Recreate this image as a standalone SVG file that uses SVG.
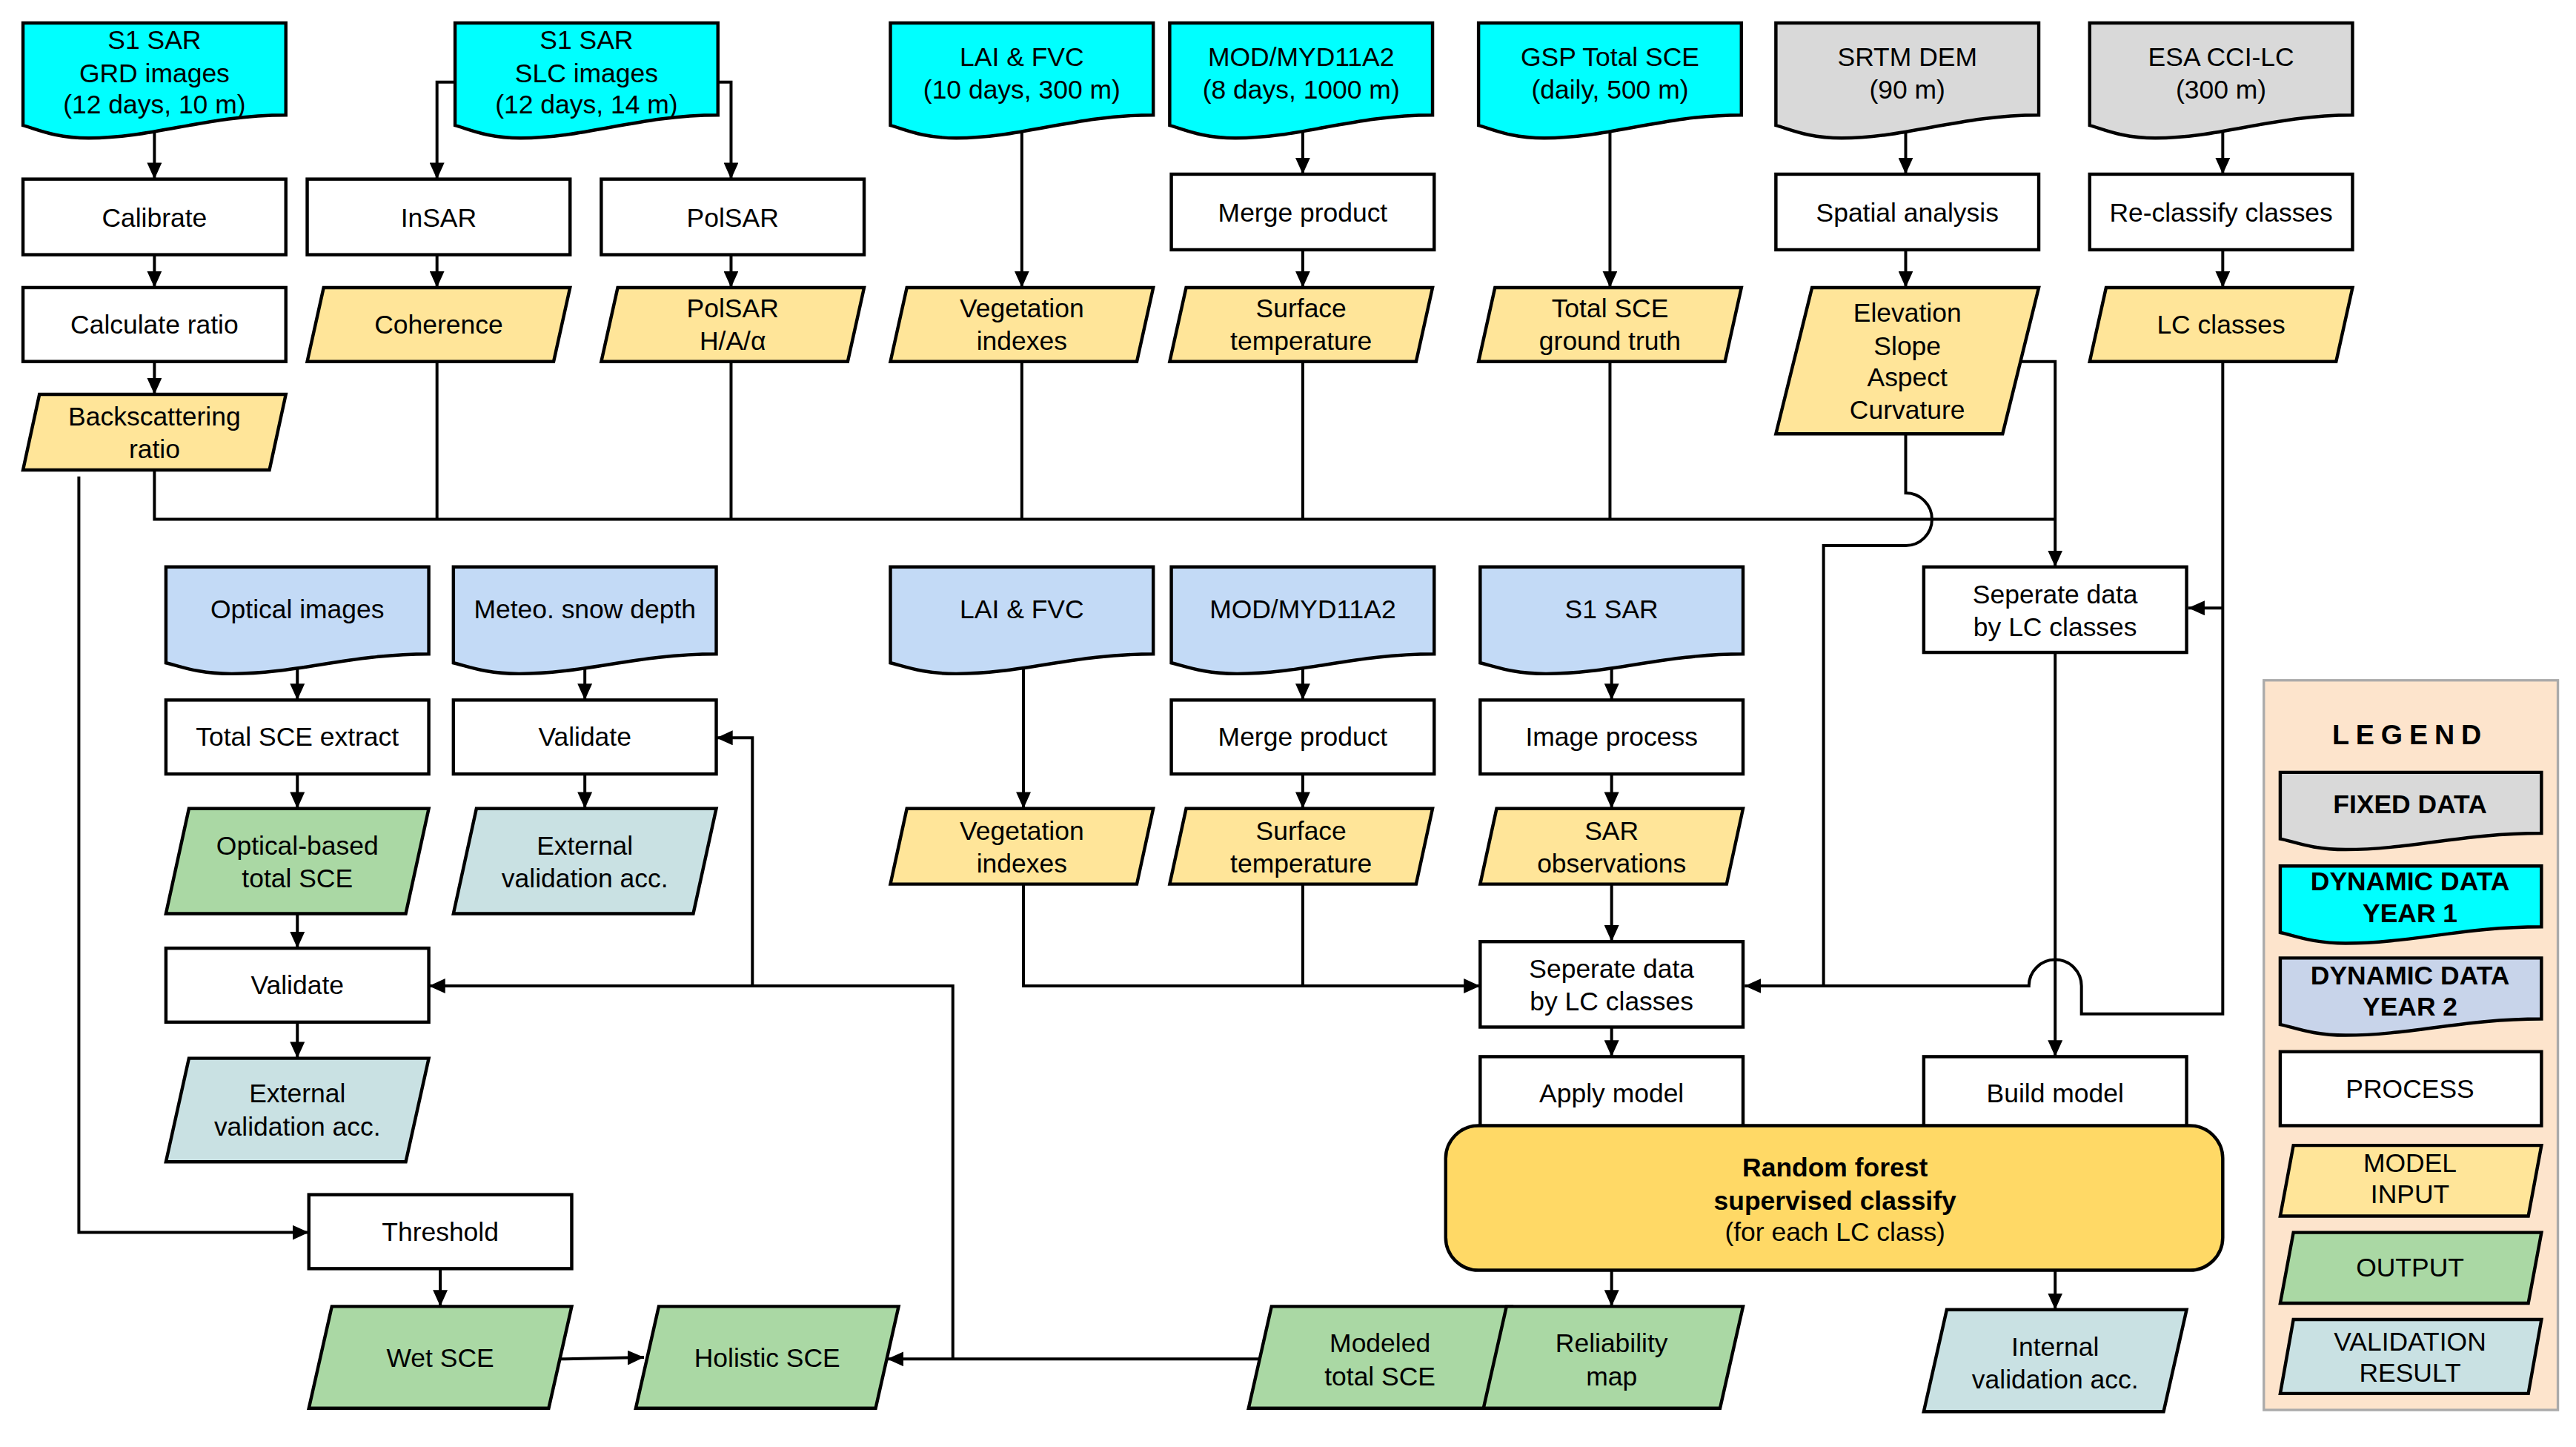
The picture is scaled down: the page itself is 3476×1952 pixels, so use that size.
<svg xmlns="http://www.w3.org/2000/svg" width="3476" height="1952" viewBox="0 0 3476 1952">
<defs>
<marker id="ar" markerWidth="10" markerHeight="9" refX="10" refY="4.5" orient="auto" markerUnits="userSpaceOnUse"><path d="M0,0 L10,4.5 L0,9 Z" fill="#000"/></marker>
<style>
.s{stroke:#000;stroke-width:2}
.p{fill:#fff}.cy{fill:#00ffff}.gr{fill:#d9d9d9}.bl{fill:#c3daf6}.b2{fill:#c8d4ea}.ye{fill:#ffe599}.gn{fill:#aad8a4}.va{fill:#c9e1e3}.rf{fill:#ffd966}
text{font-family:"Liberation Sans",Arial,sans-serif;font-size:16px;text-anchor:middle;fill:#000}
.bd{font-weight:bold}
#conn path{fill:none;stroke:#000;stroke-width:1.8}
.a{marker-end:url(#ar)}
</style>
</defs>
<rect width="3476" height="1952" fill="#fff"/>
<g transform="scale(2.2168)">
<g id="legend">
<rect x="1378" y="414" width="179" height="444" fill="#fde4cc" stroke="#aaa" stroke-width="1.5"/>
<text x="1467" y="453" class="bd" style="font-size:17px;letter-spacing:4px">LEGEND</text>
<path class="s gr" d="M1388 470 H1547 V507 C1499.3 507 1467.5 517 1427.8 517 C1407.1 517 1396 512 1388 510.5 Z"/>
<text x="1467" y="495" class="bd">FIXED DATA</text>
<path class="s cy" d="M1388 527 H1547 V564 C1499.3 564 1467.5 574 1427.8 574 C1407.1 574 1396 569 1388 567.5 Z"/>
<text x="1467" y="542" class="bd">DYNAMIC DATA</text><text x="1467" y="561" class="bd">YEAR 1</text>
<path class="s b2" d="M1388 583 H1547 V620 C1499.3 620 1467.5 630 1427.8 630 C1407.1 630 1396 625 1388 623.5 Z"/>
<text x="1467" y="599" class="bd">DYNAMIC DATA</text><text x="1467" y="618" class="bd">YEAR 2</text>
<rect class="s p" x="1388" y="640" width="159" height="45"/>
<text x="1467" y="668">PROCESS</text>
<path class="s ye" d="M1396 697 H1547 L1539 740 H1388 Z"/>
<text x="1467" y="713">MODEL</text><text x="1467" y="732">INPUT</text>
<path class="s gn" d="M1396 750 H1547 L1539 793 H1388 Z"/>
<text x="1467" y="777">OUTPUT</text>
<path class="s va" d="M1396 803 H1547 L1539 848 H1388 Z"/>
<text x="1467" y="822">VALIDATION</text><text x="1467" y="841">RESULT</text>
</g>
<g id="conn">
<path class="a" d="M94 80 V109"/><path class="a" d="M94 155 V175"/><path class="a" d="M94 220 V240"/>
<path class="a" d="M277 50 H266 V109"/><path class="a" d="M437 50 H445 V109"/>
<path class="a" d="M266 155 V175"/><path class="a" d="M445 155 V175"/>
<path class="a" d="M622 80 V175"/>
<path class="a" d="M793 80 V106"/><path class="a" d="M793 152 V175"/>
<path class="a" d="M980 80 V175"/>
<path class="a" d="M1160 80 V106"/><path class="a" d="M1160 152 V175"/>
<path class="a" d="M1353 80 V106"/><path class="a" d="M1353 152 V175"/>
<path d="M94 286 V316 H1251"/>
<path d="M266 220 V316 M445 220 V316 M622 220 V316 M793 220 V316 M980 220 V316"/>
<path class="a" d="M1230 220 H1251 V345"/>
<path class="a" d="M1160 264 V300 A16 16 0 0 1 1160 332 H1110 V600 H1062"/>
<path d="M1353 220 V617 H1267 V600 A16 16 0 0 0 1235 600 H1110"/>
<path class="a" d="M1353 370 H1332"/>
<path class="a" d="M48 290 V750 H188"/>
<path class="a" d="M1251 397 V643"/>
<path class="a" d="M181 405 V426"/><path class="a" d="M181 471 V492"/><path class="a" d="M181 556 V577"/><path class="a" d="M181 622 V644"/>
<path class="a" d="M356 405 V426"/><path class="a" d="M356 471 V492"/>
<path class="a" d="M623 405 V492"/>
<path class="a" d="M793 405 V426"/><path class="a" d="M793 471 V492"/>
<path class="a" d="M981 405 V426"/><path class="a" d="M981 471 V492"/><path class="a" d="M981 538 V573"/>
<path class="a" d="M623 538 V600 H901"/><path d="M793 538 V600"/>
<path class="a" d="M981 625 V643"/>
<path class="a" d="M981 773 V795"/><path class="a" d="M1251 773 V797"/>
<path class="a" d="M268 772 V795"/>
<path class="a" d="M341 827 L392 826"/>
<path class="a" d="M766 827 H540"/>
<path class="a" d="M580 827 V600 H261"/>
<path class="a" d="M458 600 V449 H436"/>
</g>
<g id="n_grd"><path class="s cy" d="M14 14 H174 V70 C126 70 94 84 54 84 C33.2 84 22 78.4 14 76.3 Z"/><text x="94" y="30">S1 SAR</text><text x="94" y="50">GRD images</text><text x="94" y="69">(12 days, 10 m)</text></g>
<g id="n_slc"><path class="s cy" d="M277 14 H437 V70 C389 70 357 84 317 84 C296.2 84 285 78.4 277 76.3 Z"/><text x="357" y="30">S1 SAR</text><text x="357" y="50">SLC images</text><text x="357" y="69">(12 days, 14 m)</text></g>
<g id="n_lai1"><path class="s cy" d="M542 14 H702 V70 C654 70 622 84 582 84 C561.2 84 550 78.4 542 76.3 Z"/><text x="622" y="40">LAI &amp; FVC</text><text x="622" y="60">(10 days, 300 m)</text></g>
<g id="n_mod1"><path class="s cy" d="M712 14 H872 V70 C824 70 792 84 752 84 C731.2 84 720 78.4 712 76.3 Z"/><text x="792" y="40">MOD/MYD11A2</text><text x="792" y="60">(8 days, 1000 m)</text></g>
<g id="n_gsp"><path class="s cy" d="M900 14 H1060 V70 C1012 70 980 84 940 84 C919.2 84 908 78.4 900 76.3 Z"/><text x="980" y="40">GSP Total SCE</text><text x="980" y="60">(daily, 500 m)</text></g>
<g id="n_srtm"><path class="s gr" d="M1081 14 H1241 V70 C1193 70 1161 84 1121 84 C1100.2 84 1089 78.4 1081 76.3 Z"/><text x="1161" y="40">SRTM DEM</text><text x="1161" y="60">(90 m)</text></g>
<g id="n_esa"><path class="s gr" d="M1272 14 H1432 V70 C1384 70 1352 84 1312 84 C1291.2 84 1280 78.4 1272 76.3 Z"/><text x="1352" y="40">ESA CCI-LC</text><text x="1352" y="60">(300 m)</text></g>
<g id="n_cal"><rect class="s p" x="14" y="109" width="160" height="46"/><text x="94" y="138">Calibrate</text></g>
<g id="n_insar"><rect class="s p" x="187" y="109" width="160" height="46"/><text x="267" y="138">InSAR</text></g>
<g id="n_polsar"><rect class="s p" x="366" y="109" width="160" height="46"/><text x="446" y="138">PolSAR</text></g>
<g id="n_merge1"><rect class="s p" x="713" y="106" width="160" height="46"/><text x="793" y="135">Merge product</text></g>
<g id="n_spat"><rect class="s p" x="1081" y="106" width="160" height="46"/><text x="1161" y="135">Spatial analysis</text></g>
<g id="n_recl"><rect class="s p" x="1272" y="106" width="160" height="46"/><text x="1352" y="135">Re-classify classes</text></g>
<g id="n_calc"><rect class="s p" x="14" y="175" width="160" height="45"/><text x="94" y="203">Calculate ratio</text></g>
<g id="n_coh"><path class="s ye" d="M197 175 H347 L337 220 H187 Z"/><text x="267" y="203">Coherence</text></g>
<g id="n_haa"><path class="s ye" d="M376 175 H526 L516 220 H366 Z"/><text x="446" y="193">PolSAR</text><text x="446" y="213">H/A/α</text></g>
<g id="n_veg1"><path class="s ye" d="M552 175 H702 L692 220 H542 Z"/><text x="622" y="193">Vegetation</text><text x="622" y="213">indexes</text></g>
<g id="n_st1"><path class="s ye" d="M722 175 H872 L862 220 H712 Z"/><text x="792" y="193">Surface</text><text x="792" y="213">temperature</text></g>
<g id="n_tsce"><path class="s ye" d="M910 175 H1060 L1050 220 H900 Z"/><text x="980" y="193">Total SCE</text><text x="980" y="213">ground truth</text></g>
<g id="n_elev"><path class="s ye" d="M1103 175 H1241 L1219 264 H1081 Z"/><text x="1161" y="196">Elevation</text><text x="1161" y="216">Slope</text><text x="1161" y="235">Aspect</text><text x="1161" y="255">Curvature</text></g>
<g id="n_lc"><path class="s ye" d="M1282 175 H1432 L1422 220 H1272 Z"/><text x="1352" y="203">LC classes</text></g>
<g id="n_back"><path class="s ye" d="M24 240 H174 L164 286 H14 Z"/><text x="94" y="259">Backscattering</text><text x="94" y="279">ratio</text></g>
<g id="n_sep1"><rect class="s p" x="1171" y="345" width="160" height="52"/><text x="1251" y="367">Seperate data</text><text x="1251" y="387">by LC classes</text></g>
<g id="n_opt"><path class="s bl" d="M101 345 H261 V398 C213 398 181 410 141 410 C120.2 410 109 405.2 101 403.4 Z"/><text x="181" y="376">Optical images</text></g>
<g id="n_met"><path class="s bl" d="M276 345 H436 V398 C388 398 356 410 316 410 C295.2 410 284 405.2 276 403.4 Z"/><text x="356" y="376">Meteo. snow depth</text></g>
<g id="n_lai2"><path class="s bl" d="M542 345 H702 V398 C654 398 622 410 582 410 C561.2 410 550 405.2 542 403.4 Z"/><text x="622" y="376">LAI &amp; FVC</text></g>
<g id="n_mod2"><path class="s bl" d="M713 345 H873 V398 C825 398 793 410 753 410 C732.2 410 721 405.2 713 403.4 Z"/><text x="793" y="376">MOD/MYD11A2</text></g>
<g id="n_s1"><path class="s bl" d="M901 345 H1061 V398 C1013 398 981 410 941 410 C920.2 410 909 405.2 901 403.4 Z"/><text x="981" y="376">S1 SAR</text></g>
<g id="n_tse"><rect class="s p" x="101" y="426" width="160" height="45"/><text x="181" y="454">Total SCE extract</text></g>
<g id="n_val1"><rect class="s p" x="276" y="426" width="160" height="45"/><text x="356" y="454">Validate</text></g>
<g id="n_merge2"><rect class="s p" x="713" y="426" width="160" height="45"/><text x="793" y="454">Merge product</text></g>
<g id="n_imgp"><rect class="s p" x="901" y="426" width="160" height="45"/><text x="981" y="454">Image process</text></g>
<g id="n_optsce"><path class="s gn" d="M115 492 H261 L247 556 H101 Z"/><text x="181" y="520">Optical-based</text><text x="181" y="540">total SCE</text></g>
<g id="n_ext1"><path class="s va" d="M290 492 H436 L422 556 H276 Z"/><text x="356" y="520">External</text><text x="356" y="540">validation acc.</text></g>
<g id="n_veg2"><path class="s ye" d="M552 492 H702 L692 538 H542 Z"/><text x="622" y="511">Vegetation</text><text x="622" y="531">indexes</text></g>
<g id="n_st2"><path class="s ye" d="M722 492 H872 L862 538 H712 Z"/><text x="792" y="511">Surface</text><text x="792" y="531">temperature</text></g>
<g id="n_sarobs"><path class="s ye" d="M911 492 H1061 L1051 538 H901 Z"/><text x="981" y="511">SAR</text><text x="981" y="531">observations</text></g>
<g id="n_val2"><rect class="s p" x="101" y="577" width="160" height="45"/><text x="181" y="605">Validate</text></g>
<g id="n_sep2"><rect class="s p" x="901" y="573" width="160" height="52"/><text x="981" y="595">Seperate data</text><text x="981" y="615">by LC classes</text></g>
<g id="n_ext2"><path class="s va" d="M115 644 H261 L247 707 H101 Z"/><text x="181" y="671">External</text><text x="181" y="691">validation acc.</text></g>
<g id="n_apply"><rect class="s p" x="901" y="643" width="160" height="48"/><text x="981" y="671">Apply model</text></g>
<g id="n_build"><rect class="s p" x="1171" y="643" width="160" height="48"/><text x="1251" y="671">Build model</text></g>
<g id="n_rf"><rect class="s rf" x="880" y="685" width="473" height="88" rx="20"/><text x="1117" y="716" class="bd">Random forest</text><text x="1117" y="736" class="bd">supervised classify</text><text x="1117" y="755">(for each LC class)</text></g>
<g id="n_thr"><rect class="s p" x="188" y="727" width="160" height="45"/><text x="268" y="755">Threshold</text></g>
<g id="n_wet"><path class="s gn" d="M202 795 H348 L334 857 H188 Z"/><text x="268" y="832">Wet SCE</text></g>
<g id="n_hol"><path class="s gn" d="M401 795 H547 L533 857 H387 Z"/><text x="467" y="832">Holistic SCE</text></g>
<g id="n_mod"><path class="s gn" d="M774 795 H920 L906 857 H760 Z"/><text x="840" y="823">Modeled</text><text x="840" y="843">total SCE</text></g>
<g id="n_rel"><path class="s gn" d="M917 795 H1061 L1047 857 H903 Z"/><text x="981" y="823">Reliability</text><text x="981" y="843">map</text></g>
<g id="n_int"><path class="s va" d="M1185 797 H1331 L1317 859 H1171 Z"/><text x="1251" y="825">Internal</text><text x="1251" y="845">validation acc.</text></g>
</g>
</svg>
